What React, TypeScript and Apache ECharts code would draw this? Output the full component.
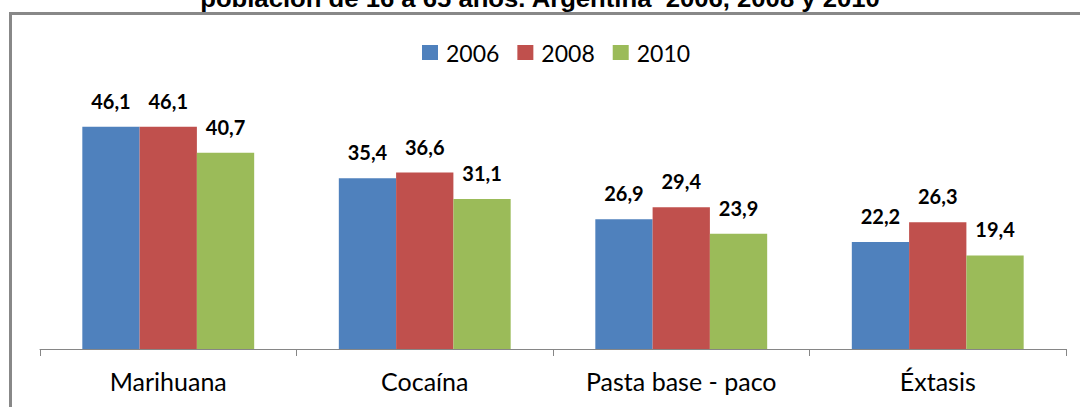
import React, { useEffect, useRef } from "react";
import * as echarts from "echarts";

const titleText = "población de 16 a 65 años. Argentina  2006, 2008 y 2010";
const categories = ["Marihuana", "Cocaína", "Pasta base - paco", "Éxtasis"];
const seriesNames = ["2006", "2008", "2010"];
const values2006 = [46.1, 35.4, 26.9, 22.2];
const values2008 = [46.1, 36.6, 29.4, 26.3];
const values2010 = [40.7, 31.1, 23.9, 19.4];
const colors = ["#4F81BD", "#C0504D", "#9BBB59"];

export default function App() {
  const ref = useRef<HTMLDivElement>(null);
  useEffect(() => {
    if (!ref.current) return;
    const chart = echarts.init(ref.current, null, { renderer: "svg" });
    const data = [values2006, values2008, values2010];
    chart.setOption({
      animation: false,
      backgroundColor: "#ffffff",
      textStyle: { fontFamily: "Lato" },
      graphic: [
        {
          type: "rect",
          shape: { x: 10.5, y: 13.5, width: 1300, height: 500 },
          style: { fill: "none", stroke: "#888888", lineWidth: 3 },
          z: 0,
        },
        {
          type: "text",
          x: 540,
          y: 11,
          scaleX: 1.07,
          style: {
            text: titleText,
            align: "center",
            verticalAlign: "bottom",
            font: "bold 24px 'Liberation Sans', Arial, sans-serif",
            fill: "#000000",
          },
          z: 10,
        },
      ],
      legend: {
        data: seriesNames,
        top: 36,
        left: 417,
        itemWidth: 16,
        itemHeight: 15,
        itemGap: 18,
        icon: "rect",
        textStyle: { fontSize: 23, color: "#000", fontFamily: "Lato", padding: [0, 0, 0, 3] },
      },
      grid: { left: 40, right: 14, top: 108, bottom: 58 },
      xAxis: {
        type: "category",
        data: categories,
        axisLine: { lineStyle: { color: "#868686", width: 1 } },
        axisTick: { show: true, length: 7, lineStyle: { color: "#868686" } },
        axisLabel: { fontSize: 25, color: "#000", margin: 19, fontFamily: "Lato" },
      },
      yAxis: {
        type: "value",
        min: 0,
        max: 50,
        show: false,
        splitLine: { show: false },
      },
      series: seriesNames.map((name, i) => ({
        name,
        type: "bar",
        data: data[i],
        barGap: "0%",
        barCategoryGap: "33%",
        itemStyle: { color: colors[i] },
        label: {
          show: true,
          position: "top",
          distance: 16,
          fontSize: 20,
          fontWeight: "bold",
          color: "#000",
          fontFamily: "Lato",
          formatter: (p: any) => String(p.value.toFixed(1)).replace(".", ","),
        },
      })),
    });
    return () => chart.dispose();
  }, []);
  return (
    <div
      ref={ref}
      style={{ position: "fixed", left: 0, top: 0, width: 1080, height: 407 }}
    />
  );
}
